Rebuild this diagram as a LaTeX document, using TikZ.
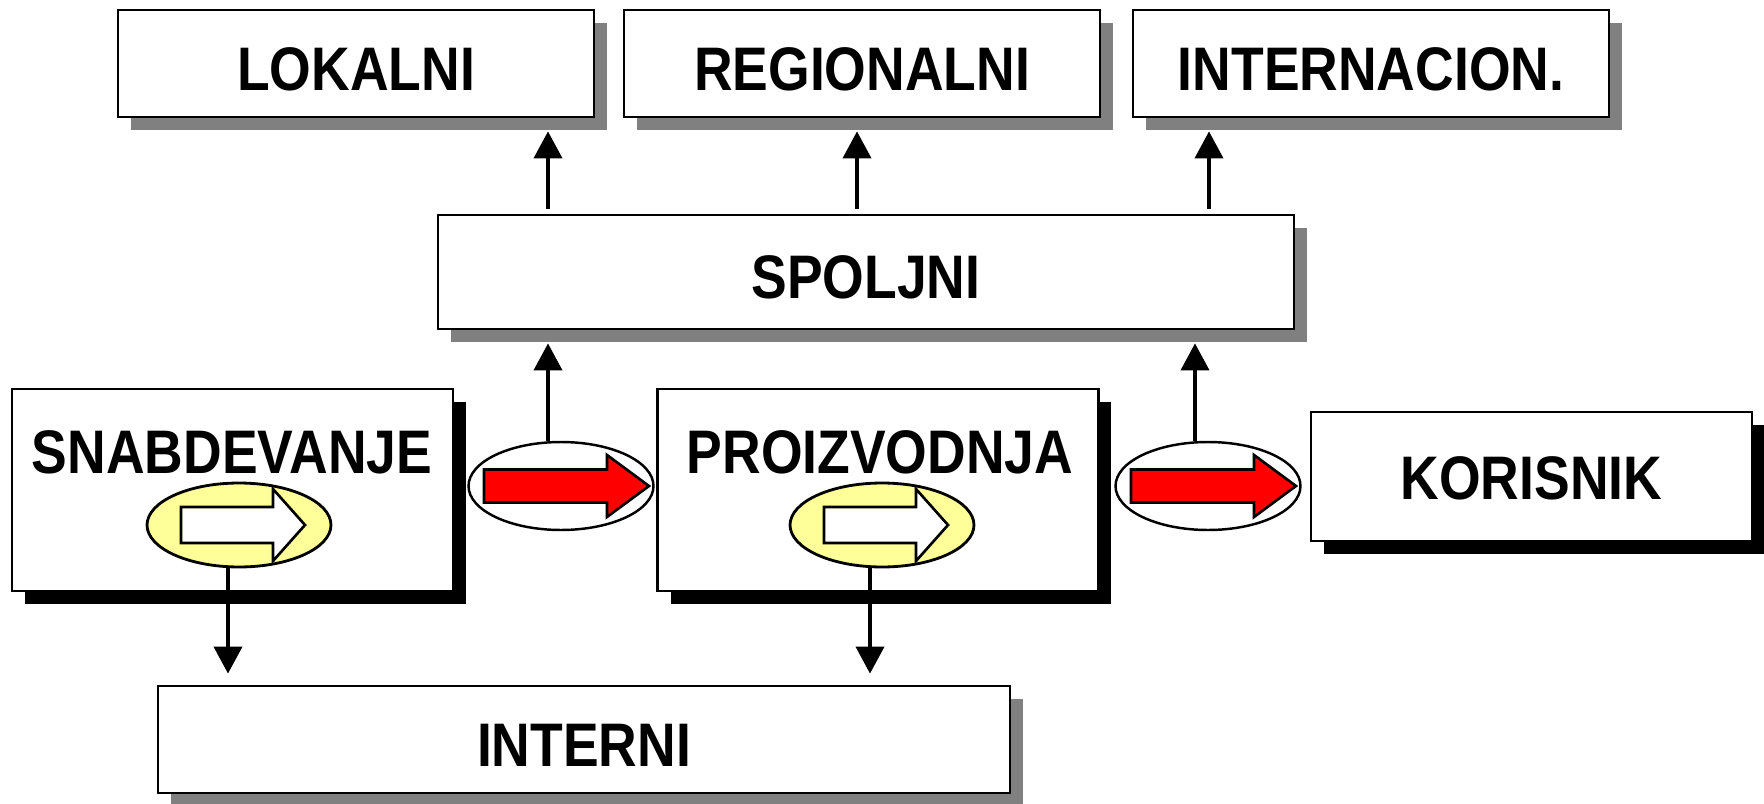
\documentclass[tikz,border=0pt]{standalone}
\usepackage{fontspec}
\setmainfont[FakeStretch=0.87]{Liberation Sans}
\usetikzlibrary{arrows.meta,shadows,shapes.geometric}

\definecolor{ovalyellow}{RGB}{255,255,153}

\tikzset{
	level box/.style = {
		rectangle,
		draw = black,
		fill = white,
		line width = 1.6pt,
		minimum width = 9.52cm,
		minimum height = 2.14cm,
		text height = 1.08cm,
		text depth = 0pt,
		font = \fontsize{35}{40}\selectfont\bfseries,
		drop shadow = {shadow xshift=0.26cm, shadow yshift=-0.26cm, fill=gray, opacity=1}
	},
	proc box/.style = {
		level box,
		minimum width = 8.82cm,
		text height = 0.92cm,
		drop shadow = {shadow xshift=0.26cm, shadow yshift=-0.26cm, fill=black, opacity=1}
	},
	proc text/.style = {
		font = \fontsize{35}{40}\selectfont\bfseries,
		inner sep = 0pt
	},
	yellow oval/.style = {
		ellipse,
		draw = black,
		fill = ovalyellow,
		line width = 1.6pt,
		minimum width = 3.68cm,
		minimum height = 1.68cm,
		inner sep = 0pt
	},
	flow oval/.style = {
		yellow oval,
		fill = white,
		line width = 1.4pt,
		minimum width = 3.7cm,
		minimum height = 1.76cm
	},
	link/.style = {
		line width = 2.2pt,
		-{Triangle[length=0.54cm, width=0.56cm]}
	},
	hollow arrow/.pic = {
		\draw[line width=1.5pt, fill=white, line join=miter]
			(-58,-18) -- (34,-18) -- (34,-36) -- (66,0) -- (34,36) -- (34,18) -- (-58,18) -- cycle;
	},
	red arrow/.pic = {
		\draw[line width=1.5pt, fill=red, line join=miter]
			(-77,-16.5) -- (46,-16.5) -- (46,-31) -- (88,0) -- (46,31) -- (46,16.5) -- (-77,16.5) -- cycle;
	}
}

\begin{document}
\begin{tikzpicture}[x=0.02cm, y=-0.02cm]
	\useasboundingbox (0,0) rectangle (1764,804);

	% upper level
	\node at (356,63.5)  [level box] (lokalni) {LOKALNI};
	\node at (862,63.5)  [level box] (regionalni) {REGIONALNI};
	\node at (1371,63.5) [level box] (internac) {INTERNACION.};
	\node at (866,272)   [level box, minimum width=17.12cm, minimum height=2.28cm] (spoljni) {SPOLJNI};

	% chain
	\node at (232.5,490) [proc box, minimum height=4.04cm] (snab) {};
	\node at (878,490)   [proc box, minimum height=4.04cm] (proiz) {};
	\node at (1531.5,476.5) [proc box, minimum height=2.58cm] (korisnik) {KORISNIK};
	\node at (232,452)   [proc text] (snabtxt) {SNABDEVANJE};
	\node at (880,452)   [proc text] (proiztxt) {PROIZVODNJA};

	\node at (239,525)  [yellow oval] (snaboval) {};
	\node at (882,525)  [yellow oval] (proizoval) {};
	\node at (561,486)  [flow oval] (flowa) {};
	\node at (1208,486) [flow oval] (flowb) {};
	\pic at (snaboval) {hollow arrow};
	\pic at (proizoval) {hollow arrow};
	\pic at (flowa) {red arrow};
	\pic at (flowb) {red arrow};

	% lower level
	\node at (584,739.5) [level box, minimum width=17.04cm] (interni) {INTERNI};

	\coordinate (xa) at (548,0);
	\coordinate (xb) at (857,0);
	\coordinate (xc) at (1209,0);
	\coordinate (xd) at (1195,0);
	\coordinate (xe) at (228,0);
	\coordinate (xf) at (870,0);

	\draw[link, shorten <=0.1cm] (spoljni.north -| xa) -- ([yshift=-0.26cm]lokalni.south -| xa);
	\draw[link, shorten <=0.1cm] (spoljni.north -| xb) -- ([yshift=-0.26cm]regionalni.south -| xb);
	\draw[link, shorten <=0.1cm] (spoljni.north -| xc) -- ([yshift=-0.26cm]internac.south -| xc);
	\draw[link] (flowa.north -| xa) -- ([yshift=-0.26cm]spoljni.south -| xa);
	\draw[link] (flowb.north -| xd) -- ([yshift=-0.26cm]spoljni.south -| xd);
	\draw[link, shorten >=0.22cm] (snaboval.south -| xe) -- (interni.north -| xe);
	\draw[link, shorten >=0.22cm] (proizoval.south -| xf) -- (interni.north -| xf);
\end{tikzpicture}
\end{document}
